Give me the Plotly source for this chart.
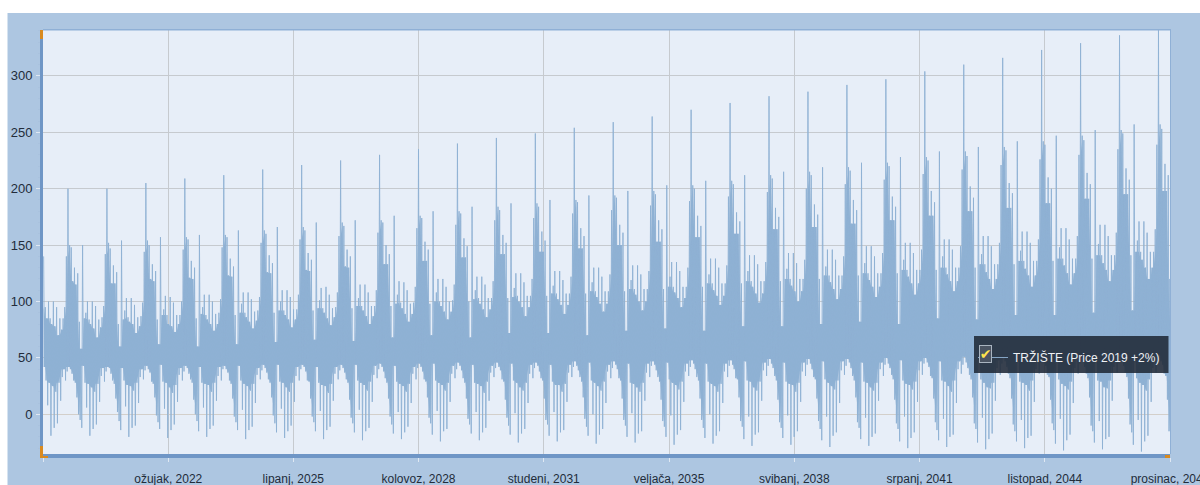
import pandas as pd
import plotly.graph_objects as go

SERIES_NAME = "TRŽIŠTE (Price 2019 +2%)"
tick_dates = ["2019-01-01", "2022-03-23", "2025-06-10", "2028-08-30", "2031-11-20", "2035-02-09",
              "2038-05-01", "2041-07-22", "2044-10-11", "2047-12-31"]
tick_labels = ["", "ožujak, 2022", "lipanj, 2025", "kolovoz, 2028", "studeni, 2031", "veljača, 2035",
               "svibanj, 2038", "srpanj, 2041", "listopad, 2044", "prosinac, 2047"]

# Upper envelope per column, one row per year 2019..2047
highs = [
    140,95,85,100,85,80,100,78,95,70,85,75,85,95,140,200,150,148,118,130,115,125,82,58,
    150,85,90,100,84,80,100,76,96,68,84,77,86,96,142,200,152,147,116,132,116,126,80,60,
    154,84,92,103,86,82,103,80,97,72,86,78,87,99,144,205,154,150,120,133,118,127,84,62,
    157,88,93,105,88,80,104,78,99,73,88,80,88,100,146,209,157,155,121,136,120,130,85,60,
    159,89,95,106,88,84,106,80,100,74,89,80,90,102,148,212,159,157,123,138,122,131,88,62,
    163,90,98,108,90,86,108,82,102,76,91,83,92,104,152,217,163,160,126,141,125,134,90,64,
    166,92,100,110,92,88,110,84,104,77,93,84,93,106,155,221,166,163,128,143,127,137,92,66,
    170,94,101,112,94,90,113,85,106,79,94,86,95,108,158,225,170,167,131,146,130,140,94,65,
    172,96,103,115,96,92,115,87,108,80,96,87,96,110,161,230,172,170,133,150,133,142,96,68,
    176,98,106,118,99,94,117,89,110,82,98,89,99,113,165,235,176,174,136,153,136,146,98,70,
    180,100,108,120,100,96,120,91,113,84,100,91,101,115,168,240,180,178,139,156,139,149,100,68,
    184,102,110,122,103,98,122,93,115,86,103,93,103,118,172,245,184,181,142,159,142,152,103,72,
    187,104,112,125,105,100,125,95,117,87,105,95,105,120,174,249,187,184,144,162,144,154,105,72,
    190,107,114,127,107,102,127,97,119,89,107,97,107,122,178,254,190,188,147,165,147,158,107,70,
    194,109,117,130,109,104,130,98,122,91,109,98,109,124,181,259,194,192,150,168,150,161,109,74,
    198,111,119,132,111,106,132,100,124,92,111,100,111,127,185,264,198,195,153,172,153,164,111,76,
    203,113,122,135,113,108,135,103,127,95,113,103,113,130,189,270,203,200,157,176,157,167,113,74,
    207,116,124,138,116,110,138,105,130,97,116,105,116,132,193,276,207,204,160,179,160,171,116,78,
    212,118,127,141,118,113,141,107,133,99,118,107,118,135,197,282,212,209,164,183,164,175,118,78,
    215,120,129,143,120,114,143,109,134,100,120,109,120,137,200,286,215,212,166,186,166,177,120,80,
    219,123,131,146,123,117,146,111,137,102,123,111,123,140,204,292,219,216,169,190,169,181,123,82,
    223,125,134,149,125,119,149,113,140,104,125,113,125,143,208,297,223,220,172,193,172,184,125,80,
    228,128,137,152,128,122,152,116,143,106,128,116,128,146,213,304,228,225,176,198,176,188,128,85,
    233,130,140,155,130,124,155,118,146,109,130,118,130,149,217,310,233,229,180,202,180,192,130,84,
    237,133,142,158,133,126,158,120,149,111,133,120,133,152,221,316,237,234,183,205,183,196,133,88,
    242,136,145,162,136,129,162,123,152,113,136,123,136,155,226,323,242,239,187,210,187,200,136,88,
    247,138,148,165,138,132,165,125,155,115,138,125,138,158,230,329,247,243,191,214,191,204,138,90,
    252,141,151,168,141,134,168,128,158,118,141,128,141,161,235,336,252,249,195,218,195,208,141,92,
    257,144,154,171,144,137,171,130,161,120,144,130,144,164,239,342,257,253,198,222,198,212,120,85,
]

# Lower envelope per column, one row per year 2019..2047
lows = [
    42,30,8,28,-19,25,-12,20,-8,28,12,33,40,30,38,42,40,36,30,28,15,0,-5,-12,
    43,28,6,27,-19,24,-13,20,-9,27,11,34,41,29,38,42,41,36,30,27,14,2,-6,-14,
    41,30,7,26,-20,25,-12,21,-10,28,10,33,40,31,39,43,40,37,29,27,15,-1,-7,-13,
    44,29,5,28,-21,24,-14,19,-9,26,11,35,41,30,38,43,41,36,31,28,13,0,-6,-15,
    42,28,6,27,-20,26,-13,20,-10,28,12,34,42,30,40,43,40,37,30,27,14,-2,-7,-14,
    43,30,4,27,-22,25,-14,21,-11,27,10,35,41,31,39,44,41,37,31,28,15,-1,-8,-16,
    44,29,5,28,-21,24,-15,20,-10,28,11,34,42,30,40,44,42,38,30,29,14,-2,-7,-15,
    42,28,3,26,-22,25,-14,19,-11,27,12,36,42,31,39,44,41,37,31,28,13,-3,-8,-16,
    44,30,4,28,-23,26,-15,21,-12,29,11,35,43,32,40,45,42,38,32,28,14,-2,-9,-17,
    43,29,2,27,-22,25,-16,20,-11,27,10,36,42,31,41,45,42,38,31,29,15,-3,-8,-18,
    45,30,3,28,-24,26,-15,21,-13,28,11,36,43,32,40,46,43,39,32,28,14,-4,-9,-17,
    44,28,2,27,-23,25,-16,19,-12,29,12,37,43,33,41,46,42,39,31,29,13,-3,-10,-18,
    45,30,1,28,-25,24,-17,21,-13,28,10,36,44,32,41,46,43,38,32,30,14,-5,-9,-19,
    44,29,2,26,-24,26,-16,20,-14,27,11,37,44,33,42,47,43,39,33,29,15,-4,-11,-19,
    46,30,0,28,-26,25,-18,21,-13,29,10,38,44,32,41,47,44,40,32,30,14,-5,-10,-20,
    45,28,1,27,-25,24,-17,20,-15,28,12,37,45,33,43,47,44,39,33,29,13,-6,-11,-20,
    46,31,-1,28,-27,26,-18,22,-14,29,11,38,45,34,42,48,45,40,33,30,14,-5,-12,-21,
    45,29,0,27,-26,25,-19,20,-15,27,10,38,45,33,43,48,44,40,32,31,15,-6,-11,-22,
    47,30,-2,29,-28,24,-18,21,-16,29,12,39,46,34,43,49,45,41,34,30,13,-7,-12,-21,
    46,29,-1,27,-27,26,-20,20,-15,28,11,38,46,34,44,49,45,40,33,31,14,-6,-13,-23,
    47,31,-2,28,-29,25,-19,22,-16,30,10,39,47,35,43,49,46,41,34,30,15,-7,-12,-22,
    46,29,-3,28,-28,24,-20,21,-17,28,12,40,46,34,44,50,45,41,35,31,13,-8,-13,-24,
    48,30,-2,27,-30,26,-21,22,-16,29,11,39,47,35,45,50,46,42,34,32,14,-7,-14,-23,
    47,30,-4,29,-29,25,-20,20,-18,30,10,40,47,36,44,51,46,41,35,31,15,-8,-13,-25,
    48,31,-3,28,-31,24,-22,23,-17,28,12,41,48,35,45,51,47,42,36,32,14,-9,-15,-24,
    47,29,-5,28,-30,26,-21,21,-19,30,11,40,48,36,46,52,46,43,35,33,13,-8,-14,-26,
    49,31,-4,27,-32,25,-23,22,-18,29,10,41,49,36,45,52,47,42,36,32,15,-10,-15,-25,
    48,30,-6,29,-31,24,-22,23,-20,30,12,42,48,37,46,53,48,43,37,33,14,-9,-16,-27,
    49,32,-5,28,-33,26,-24,21,-19,31,11,41,49,37,47,53,47,44,36,34,13,-15,-16,-27,
]

# Sampled alternately at the top and bottom of each column
values = [v for pair in zip(highs, lows) for v in pair]
dates = pd.date_range("2019-01-07", periods=len(values), freq="183h")

# Solid core: what every three neighbouring columns share
col_dates = dates[::2]
core_top = pd.Series(highs).rolling(3, center=True, min_periods=1).min().tolist()
core_bot = pd.Series(lows).rolling(3, center=True, min_periods=1).max().tolist()

PANEL = "#adc6e1"
AXIS = "#6f96c6"
ORANGE = "#d98a1f"
TEXT = "#222c3a"
SERIES = "#8fb1d4"
GRID = "#c6cacf"

W, H = 1200, 485
L, R, T, B = 43, 30, 30, 31
PW, PH = W - L - R, H - T - B


def px(x):
    return (x - L) / PW


def py(y):
    return (H - B - y) / PH


def rect(x0, y0, x1, y1, fill, layer="above", line=None):
    return dict(type="rect", xref="paper", yref="paper", x0=px(x0), x1=px(x1), y0=py(y0), y1=py(y1),
                fillcolor=fill, layer=layer,
                line=dict(width=0 if line is None else 1, color=line or fill))


fig = go.Figure()
fig.add_trace(go.Scatter(x=col_dates, y=core_bot, mode="lines", line=dict(width=0, color=SERIES),
                         showlegend=False, hoverinfo="skip"))
fig.add_trace(go.Scatter(x=col_dates, y=core_top, mode="lines", line=dict(width=0, color=SERIES),
                         fill="tonexty", fillcolor=SERIES, showlegend=False, hoverinfo="skip"))
fig.add_trace(go.Scatter(x=dates, y=values, mode="lines", name=SERIES_NAME, showlegend=True,
                         line=dict(color=SERIES, width=0.9), hoverinfo="skip"))

shapes = [
    rect(0, 0, 7.5, H, "#ffffff", "below"),
    rect(0, 0, W, 13, "#ffffff", "below"),
    rect(L, 29, W - R + 1, 30.4, "#8fb0d6"),
    rect(W - R, 29, W - R + 1, H - B, "#8fb0d6"),
    rect(40, 30, 43, 39, ORANGE),
    rect(40, 446, 43, 458, ORANGE),
    rect(40, 456, 48, 458, ORANGE),
    rect(1165, 455, 1170, 458, ORANGE),
    rect(974, 336, 1168.5, 373, "rgba(32,41,55,0.88)"),
]

annotations = [
    dict(xref="paper", yref="paper", x=px(985), y=py(353.5), xanchor="center", yanchor="middle",
         text="✔", showarrow=False, width=11, height=16,
         bgcolor="#4a5462", bordercolor="#a9b4c0", borderwidth=1, borderpad=0,
         font=dict(family="DejaVu Sans", size=14, color="#ffe34d")),
]

fig.update_layout(
    width=W, height=H, autosize=False,
    margin=dict(l=L, r=R, t=T, b=B, pad=0, autoexpand=False),
    paper_bgcolor=PANEL, plot_bgcolor="#e7eef8",
    font=dict(family="Liberation Sans", size=12, color=TEXT),
    shapes=shapes, annotations=annotations,
    showlegend=True,
    legend=dict(x=px(973), y=py(343), xanchor="left", yanchor="top", bgcolor="rgba(0,0,0,0)",
                borderwidth=0, itemwidth=30, itemclick=False, itemdoubleclick=False,
                font=dict(family="Liberation Sans", size=12, color="#eef1f5")),
    xaxis=dict(type="date", range=["2019-01-01", "2047-12-31"], tickmode="array",
               tickvals=tick_dates, ticktext=tick_labels, tickangle=0,
               showgrid=True, gridcolor=GRID, gridwidth=1.3,
               showline=True, linecolor=AXIS, linewidth=4,
               ticks="outside", ticklen=4, tickcolor="#dfe8f3", tickwidth=1,
               ticklabelstandoff=7, ticklabeloverflow="allow",
               tickfont=dict(family="Liberation Sans", size=12, color=TEXT),
               zeroline=False, automargin=False),
    yaxis=dict(range=[-35.2, 340.7], tickmode="array", tickvals=[0, 50, 100, 150, 200, 250, 300],
               showgrid=True, gridcolor=GRID, gridwidth=1.4,
               zeroline=True, zerolinecolor="#d3cfca", zerolinewidth=1.4,
               showline=True, linecolor=AXIS, linewidth=3,
               ticks="outside", ticklen=4, tickcolor="#dfe8f3", tickwidth=1,
               minor=dict(dtick=10, ticks="outside", ticklen=2, tickcolor="#a9c2de", showgrid=False),
               ticklabelstandoff=1, automargin=False,
               tickfont=dict(family="Liberation Sans", size=13, color=TEXT)),
)

fig.write_html("out.html", config={"displayModeBar": False},
               post_script="document.body.style.margin='0';document.body.style.overflow='hidden';")
